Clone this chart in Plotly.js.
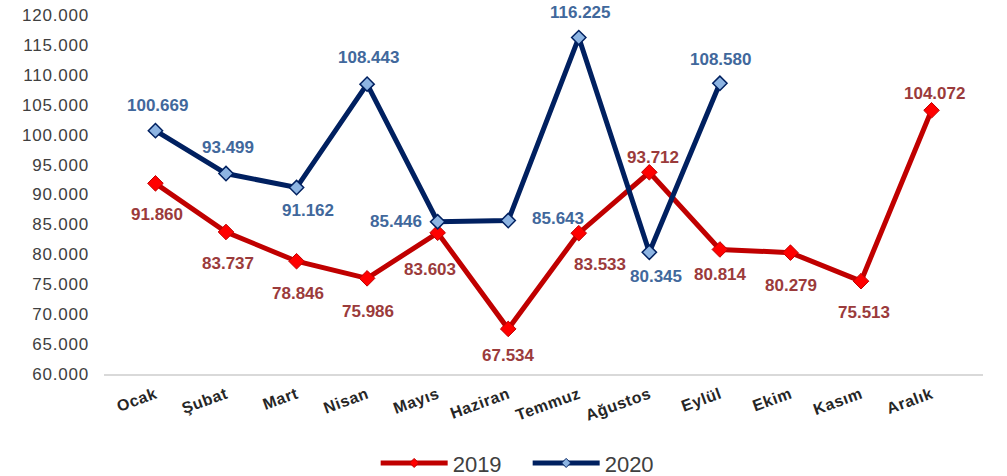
<!DOCTYPE html>
<html>
<head>
<meta charset="utf-8">
<script src="https://cdn.plot.ly/plotly-3.0.1.min.js"></script>
<style>
  html, body { margin: 0; padding: 0; background: #fff; }
  #chart { width: 1007px; height: 476px; }
  .ytick text { letter-spacing: 0.8px; }
  .xtick text { letter-spacing: 0.6px; }
</style>
</head>
<body>
<div id="chart"></div>
<script>
// ---- data ----
const months = ['Ocak', 'Şubat', 'Mart', 'Nisan', 'Mayıs', 'Haziran', 'Temmuz', 'Ağustos', 'Eylül', 'Ekim', 'Kasım', 'Aralık'];
const values2019 = [91860, 83737, 78846, 75986, 83603, 67534, 83533, 93712, 80814, 80279, 75513, 104072];
const values2020 = [100669, 93499, 91162, 108443, 85446, 85643, 116225, 80345, 108580, null, null, null];
const yTicks = [60000, 65000, 70000, 75000, 80000, 85000, 90000, 95000, 100000, 105000, 110000, 115000, 120000];

// ---- label offsets (px) [xshift, yshift] ----
const shift2019 = [[2,-31],[2,-32],[1,-32],[1,-33],[-8,-37],[0,-27],[21,-31],[4,15],[1,-25],[1,-33],[3,-31],[3,17]];
const shift2020 = [[2,25],[2,26],[11,-23],[1,27],[-42,0],[50,2],[2,25],[7,-24],[1,24]];

function fmt(v) {
  return String(v).replace(/\B(?=(\d{3})+(?!\d))/g, '.');
}

const FONT = 'Liberation Sans, Arial, sans-serif';
const c2019Line = '#C00000', c2019Mark = '#FF0000', c2019Text = '#9B3B3B';
const c2020Line = '#002060', c2020Mark = '#8DB4E2', c2020Text = '#41689C';

const traces = [
  {
    x: months, y: values2019, name: '2019', type: 'scatter', mode: 'lines+markers',
    line: { color: c2019Line, width: 5 },
    marker: { symbol: 'diamond', size: 12, color: c2019Mark, line: { color: c2019Line, width: 1 } },
    cliponaxis: false, showlegend: false
  },
  {
    x: months, y: values2020, name: '2020', type: 'scatter', mode: 'lines+markers',
    line: { color: c2020Line, width: 5 },
    marker: { symbol: 'diamond', size: 11, color: c2020Mark, line: { color: c2020Line, width: 1.5 } },
    cliponaxis: false, connectgaps: false, showlegend: false
  },
  // legend entries (smaller markers, as in the reference legend)
  {
    x: [null], y: [null], name: '2019', type: 'scatter', mode: 'lines+markers',
    line: { color: c2019Line, width: 5 },
    marker: { symbol: 'diamond', size: 7, color: c2019Mark, line: { color: c2019Line, width: 1 } }
  },
  {
    x: [null], y: [null], name: '2020', type: 'scatter', mode: 'lines+markers',
    line: { color: c2020Line, width: 5 },
    marker: { symbol: 'diamond', size: 7, color: c2020Mark, line: { color: c2020Line, width: 1 } }
  }
];

const annotations = [];
values2019.forEach((v, i) => {
  if (v == null) return;
  annotations.push({
    x: months[i], y: v, xref: 'x', yref: 'y', text: fmt(v), showarrow: false,
    xshift: shift2019[i][0], yshift: shift2019[i][1],
    font: { family: FONT, size: 17, color: c2019Text, weight: 'bold' }
  });
});
values2020.forEach((v, i) => {
  if (v == null) return;
  annotations.push({
    x: months[i], y: v, xref: 'x', yref: 'y', text: fmt(v), showarrow: false,
    xshift: shift2020[i][0], yshift: shift2020[i][1],
    font: { family: FONT, size: 17, color: c2020Text, weight: 'bold' }
  });
});

const layout = {
  width: 1007, height: 476,
  margin: { l: 104, r: 24, t: 15, b: 102 },
  paper_bgcolor: '#ffffff', plot_bgcolor: '#ffffff',
  separators: ',.',
  showlegend: true,
  hovermode: false,
  font: { family: FONT, color: '#404040' },
  xaxis: {
    type: 'category',
    automargin: false,
    showgrid: false, zeroline: false,
    showline: true, linecolor: '#D9D9D9', linewidth: 2,
    ticks: '', tickangle: -20, ticklabelstandoff: 3,
    tickfont: { family: FONT, size: 16, color: '#262626', weight: 'bold' }
  },
  yaxis: {
    automargin: false,
    range: [60000, 120000],
    tickvals: yTicks,
    tickformat: ',d',
    showgrid: false, zeroline: false, showline: false,
    ticks: '', ticklabelstandoff: 14,
    tickfont: { family: FONT, size: 17, color: '#404040' }
  },
  legend: {
    orientation: 'h', xref: 'container', yref: 'container',
    x: 0.524, xanchor: 'center', y: 0.027, yanchor: 'middle',
    font: { family: FONT, size: 22, color: '#404040' },
    itemwidth: 67,
    entrywidth: 70, entrywidthmode: 'pixels',
    tracegroupgap: 0
  },
  annotations: annotations
};

Plotly.newPlot('chart', traces, layout, { displayModeBar: false, staticPlot: true });
</script>
</body>
</html>
